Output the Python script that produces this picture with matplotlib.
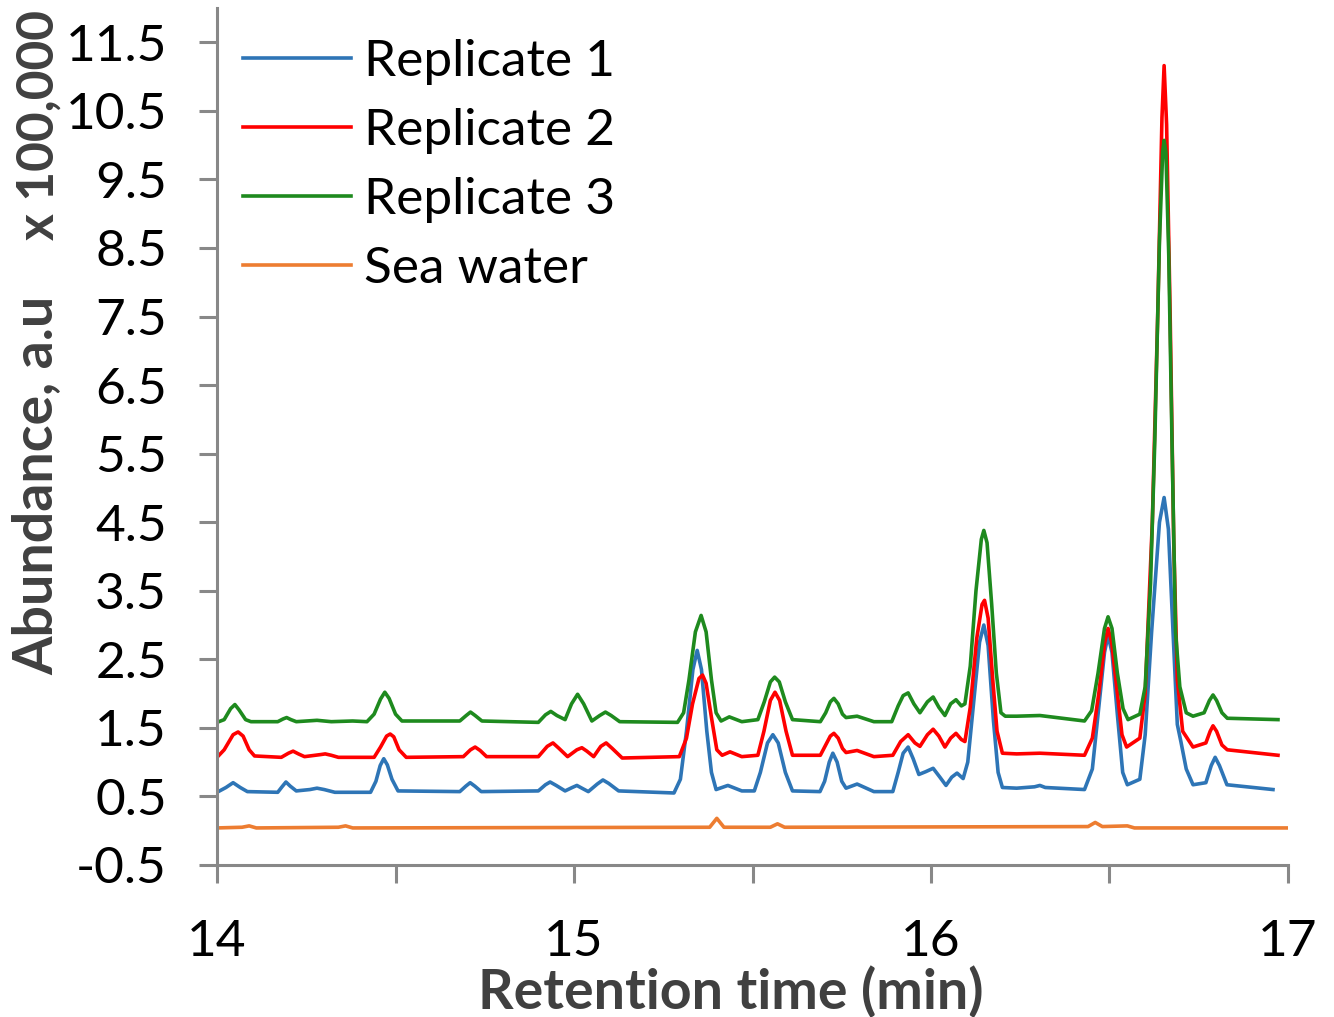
import matplotlib
matplotlib.use("Agg")
import matplotlib.pyplot as plt
from matplotlib.ticker import MultipleLocator, FixedLocator, FuncFormatter

# (retention time in min, abundance x 100,000)
rep1 = [(14.000, 0.56), (14.025, 0.63), (14.045, 0.70), (14.065, 0.63), (14.085, 0.57),
        (14.170, 0.56), (14.182, 0.64), (14.193, 0.71), (14.205, 0.65), (14.222, 0.58),
        (14.260, 0.60), (14.280, 0.62), (14.300, 0.60), (14.330, 0.56), (14.430, 0.56),
        (14.445, 0.72), (14.457, 0.95), (14.467, 1.05), (14.477, 0.96), (14.490, 0.75),
        (14.507, 0.58), (14.680, 0.57), (14.697, 0.65), (14.709, 0.70), (14.722, 0.65),
        (14.740, 0.57), (14.900, 0.58), (14.920, 0.67), (14.933, 0.71), (14.950, 0.66),
        (14.975, 0.58), (14.995, 0.63), (15.008, 0.66), (15.022, 0.62), (15.040, 0.57),
        (15.065, 0.68), (15.081, 0.74), (15.097, 0.69), (15.125, 0.58), (15.280, 0.55),
        (15.298, 0.75), (15.315, 1.45), (15.333, 2.35), (15.345, 2.63), (15.357, 2.35),
        (15.372, 1.45), (15.385, 0.85), (15.398, 0.60), (15.431, 0.66), (15.470, 0.58),
        (15.505, 0.58), (15.522, 0.85), (15.542, 1.28), (15.557, 1.40), (15.572, 1.28),
        (15.592, 0.85), (15.612, 0.58), (15.689, 0.57), (15.702, 0.72), (15.715, 1.00),
        (15.725, 1.13), (15.737, 1.00), (15.750, 0.72), (15.762, 0.62), (15.793, 0.68),
        (15.840, 0.57), (15.893, 0.57), (15.908, 0.85), (15.922, 1.13), (15.936, 1.22),
        (15.950, 1.05), (15.966, 0.82), (15.985, 0.86), (16.006, 0.91), (16.025, 0.78),
        (16.042, 0.66), (16.058, 0.78), (16.073, 0.84), (16.090, 0.76), (16.103, 1.00),
        (16.120, 1.90), (16.136, 2.75), (16.148, 3.00), (16.160, 2.70), (16.175, 1.60),
        (16.188, 0.85), (16.200, 0.63), (16.240, 0.62), (16.290, 0.64), (16.305, 0.66),
        (16.320, 0.63), (16.430, 0.60), (16.452, 0.90), (16.470, 1.80), (16.486, 2.60),
        (16.496, 2.85), (16.507, 2.60), (16.522, 1.70), (16.537, 0.85), (16.550, 0.67),
        (16.585, 0.75), (16.600, 1.40), (16.618, 2.90), (16.640, 4.50), (16.653, 4.86),
        (16.665, 4.40), (16.678, 2.90), (16.690, 1.55), (16.700, 1.30), (16.715, 0.90),
        (16.734, 0.67), (16.770, 0.70), (16.785, 0.95), (16.796, 1.07), (16.808, 0.95),
        (16.829, 0.67), (16.958, 0.60)]

rep2 = [(14.000, 1.07), (14.020, 1.18), (14.045, 1.40), (14.059, 1.44), (14.073, 1.38),
        (14.090, 1.18), (14.105, 1.09), (14.180, 1.07), (14.200, 1.13), (14.213, 1.16),
        (14.228, 1.12), (14.245, 1.08), (14.290, 1.11), (14.303, 1.12), (14.320, 1.10),
        (14.340, 1.07), (14.440, 1.07), (14.458, 1.22), (14.475, 1.38), (14.485, 1.41),
        (14.495, 1.37), (14.510, 1.18), (14.530, 1.07), (14.690, 1.08), (14.710, 1.18),
        (14.723, 1.22), (14.737, 1.17), (14.755, 1.08), (14.900, 1.08), (14.925, 1.23),
        (14.941, 1.28), (14.958, 1.20), (14.982, 1.08), (15.008, 1.18), (15.022, 1.21),
        (15.036, 1.16), (15.055, 1.08), (15.075, 1.23), (15.090, 1.28), (15.107, 1.20),
        (15.135, 1.06), (15.295, 1.08), (15.315, 1.35), (15.332, 1.85), (15.350, 2.22),
        (15.360, 2.27), (15.370, 2.15), (15.385, 1.65), (15.400, 1.18), (15.415, 1.10),
        (15.437, 1.15), (15.470, 1.08), (15.515, 1.10), (15.532, 1.45), (15.550, 1.90),
        (15.563, 2.02), (15.576, 1.90), (15.594, 1.45), (15.612, 1.10), (15.690, 1.10),
        (15.705, 1.25), (15.718, 1.38), (15.728, 1.42), (15.740, 1.35), (15.752, 1.20),
        (15.762, 1.14), (15.793, 1.17), (15.840, 1.08), (15.893, 1.10), (15.915, 1.30),
        (15.936, 1.40), (15.955, 1.28), (15.969, 1.23), (15.990, 1.40), (16.006, 1.48),
        (16.022, 1.38), (16.039, 1.22), (16.055, 1.35), (16.070, 1.42), (16.085, 1.33),
        (16.095, 1.30), (16.110, 1.80), (16.128, 2.80), (16.143, 3.30), (16.150, 3.36),
        (16.160, 3.10), (16.173, 2.20), (16.185, 1.45), (16.200, 1.13), (16.240, 1.12),
        (16.305, 1.13), (16.430, 1.10), (16.452, 1.35), (16.470, 2.00), (16.487, 2.75),
        (16.496, 2.95), (16.506, 2.75), (16.520, 2.10), (16.535, 1.40), (16.548, 1.22),
        (16.585, 1.35), (16.600, 2.00), (16.620, 4.50), (16.635, 7.50), (16.647, 10.40),
        (16.653, 11.16), (16.660, 10.30), (16.670, 7.50), (16.680, 4.20), (16.690, 2.20),
        (16.705, 1.45), (16.734, 1.22), (16.770, 1.28), (16.782, 1.45), (16.790, 1.53),
        (16.800, 1.45), (16.815, 1.25), (16.830, 1.18), (16.972, 1.10)]

rep3 = [(14.000, 1.58), (14.020, 1.62), (14.038, 1.78), (14.050, 1.84), (14.062, 1.76),
        (14.080, 1.62), (14.095, 1.59), (14.170, 1.59), (14.185, 1.63), (14.195, 1.65),
        (14.207, 1.62), (14.222, 1.59), (14.280, 1.61), (14.320, 1.59), (14.380, 1.60),
        (14.420, 1.59), (14.440, 1.70), (14.458, 1.92), (14.470, 2.02), (14.482, 1.93),
        (14.500, 1.70), (14.518, 1.60), (14.680, 1.60), (14.698, 1.68), (14.710, 1.73),
        (14.723, 1.68), (14.742, 1.60), (14.900, 1.58), (14.920, 1.69), (14.935, 1.74),
        (14.952, 1.68), (14.975, 1.62), (14.993, 1.85), (15.010, 1.99), (15.027, 1.85),
        (15.050, 1.60), (15.072, 1.68), (15.088, 1.73), (15.104, 1.68), (15.128, 1.59),
        (15.290, 1.58), (15.307, 1.72), (15.322, 2.20), (15.340, 2.90), (15.356, 3.14),
        (15.370, 2.90), (15.385, 2.20), (15.398, 1.72), (15.412, 1.60), (15.435, 1.66),
        (15.470, 1.59), (15.515, 1.62), (15.533, 1.88), (15.550, 2.17), (15.562, 2.24),
        (15.575, 2.17), (15.592, 1.88), (15.612, 1.62), (15.690, 1.59), (15.705, 1.72),
        (15.718, 1.88), (15.728, 1.93), (15.740, 1.85), (15.752, 1.70), (15.762, 1.65),
        (15.793, 1.67), (15.840, 1.59), (15.890, 1.59), (15.908, 1.82), (15.922, 1.97),
        (15.936, 2.01), (15.952, 1.85), (15.969, 1.72), (15.990, 1.88), (16.006, 1.95),
        (16.022, 1.80), (16.039, 1.68), (16.055, 1.85), (16.070, 1.91), (16.085, 1.82),
        (16.095, 1.85), (16.110, 2.40), (16.126, 3.50), (16.141, 4.25), (16.148, 4.38),
        (16.157, 4.20), (16.170, 3.30), (16.183, 2.30), (16.196, 1.72), (16.208, 1.67),
        (16.240, 1.67), (16.305, 1.68), (16.430, 1.60), (16.450, 1.75), (16.468, 2.30),
        (16.486, 2.95), (16.496, 3.12), (16.507, 2.95), (16.522, 2.30), (16.538, 1.78),
        (16.552, 1.62), (16.585, 1.70), (16.600, 2.10), (16.615, 3.60), (16.627, 5.70),
        (16.640, 8.60), (16.649, 9.90), (16.653, 10.07), (16.658, 9.90), (16.666, 8.40),
        (16.675, 5.70), (16.685, 2.90), (16.697, 2.10), (16.715, 1.72), (16.734, 1.67),
        (16.765, 1.72), (16.780, 1.90), (16.790, 1.98), (16.800, 1.90), (16.815, 1.72),
        (16.830, 1.64), (16.972, 1.62)]

sea = [(14.00, 0.04), (14.07, 0.05), (14.09, 0.07), (14.11, 0.04), (14.34, 0.05),
       (14.36, 0.07), (14.38, 0.04), (15.38, 0.05), (15.40, 0.18), (15.42, 0.05),
       (15.55, 0.05), (15.57, 0.10), (15.59, 0.05), (16.44, 0.06), (16.46, 0.12),
       (16.48, 0.06), (16.55, 0.07), (16.57, 0.04), (17.00, 0.04)]

names = ["Replicate 1", "Replicate 2", "Replicate 3", "Sea water"]
colors = ["#2E75B6", "#FF0000", "#1E8A1E", "#ED7D31"]

fig = plt.figure(figsize=(13.34, 10.17), dpi=100)
ax = fig.add_axes([0.1627, 0.1495, 0.8028, 0.8426])

for name, data, col in zip(names, [rep1, rep2, rep3, sea], colors):
    t, y = zip(*data)
    ax.plot(t, y, color=col, lw=2.6, label=name, solid_joinstyle="round")

ax.set_xlim(14, 17)
ax.set_ylim(-0.5, 12.0)
ax.xaxis.set_major_locator(MultipleLocator(1))
ax.xaxis.set_minor_locator(MultipleLocator(0.5))
ax.yaxis.set_major_locator(FixedLocator([-0.5 + i for i in range(13)]))
ax.yaxis.set_major_formatter(FuncFormatter(lambda v, p: f"{v:.1f}"))

for s in ["top", "right"]:
    ax.spines[s].set_visible(False)
for s in ["left", "bottom"]:
    ax.spines[s].set_color("#888888")
    ax.spines[s].set_linewidth(2.2)

ax.tick_params(axis="both", which="both", direction="out", color="#888888",
               width=2.2, length=13, labelsize=37, labelcolor="black")
ax.tick_params(axis="x", which="major", pad=26)
ax.tick_params(axis="y", which="major", pad=23)
for lab in ax.get_xticklabels() + ax.get_yticklabels():
    lab.set_family("Lato")

ax.set_xlabel("Retention time (min)", fontsize=40, fontweight="bold",
              family="Lato", color="#404040")
ax.xaxis.set_label_coords(0.48, -0.148)
ax.xaxis.label.set_va("center")
fig.text(0.027, 0.523, "Abundance, a.u", rotation=90, fontsize=40, fontweight="bold",
         family="Lato", color="#404040", ha="center", va="center")
fig.text(0.029, 0.877, "x 100,000", rotation=90, fontsize=37, fontweight="bold",
         family="Lato", color="#404040", ha="center", va="center")

ax.legend(loc="upper left", bbox_to_anchor=(0.024, 0.964), frameon=False,
          prop={"family": "Lato", "size": 37}, handlelength=2.1,
          handletextpad=0.25, labelspacing=0.45, borderpad=0, borderaxespad=0)

fig.savefig("out.png", dpi=100)
